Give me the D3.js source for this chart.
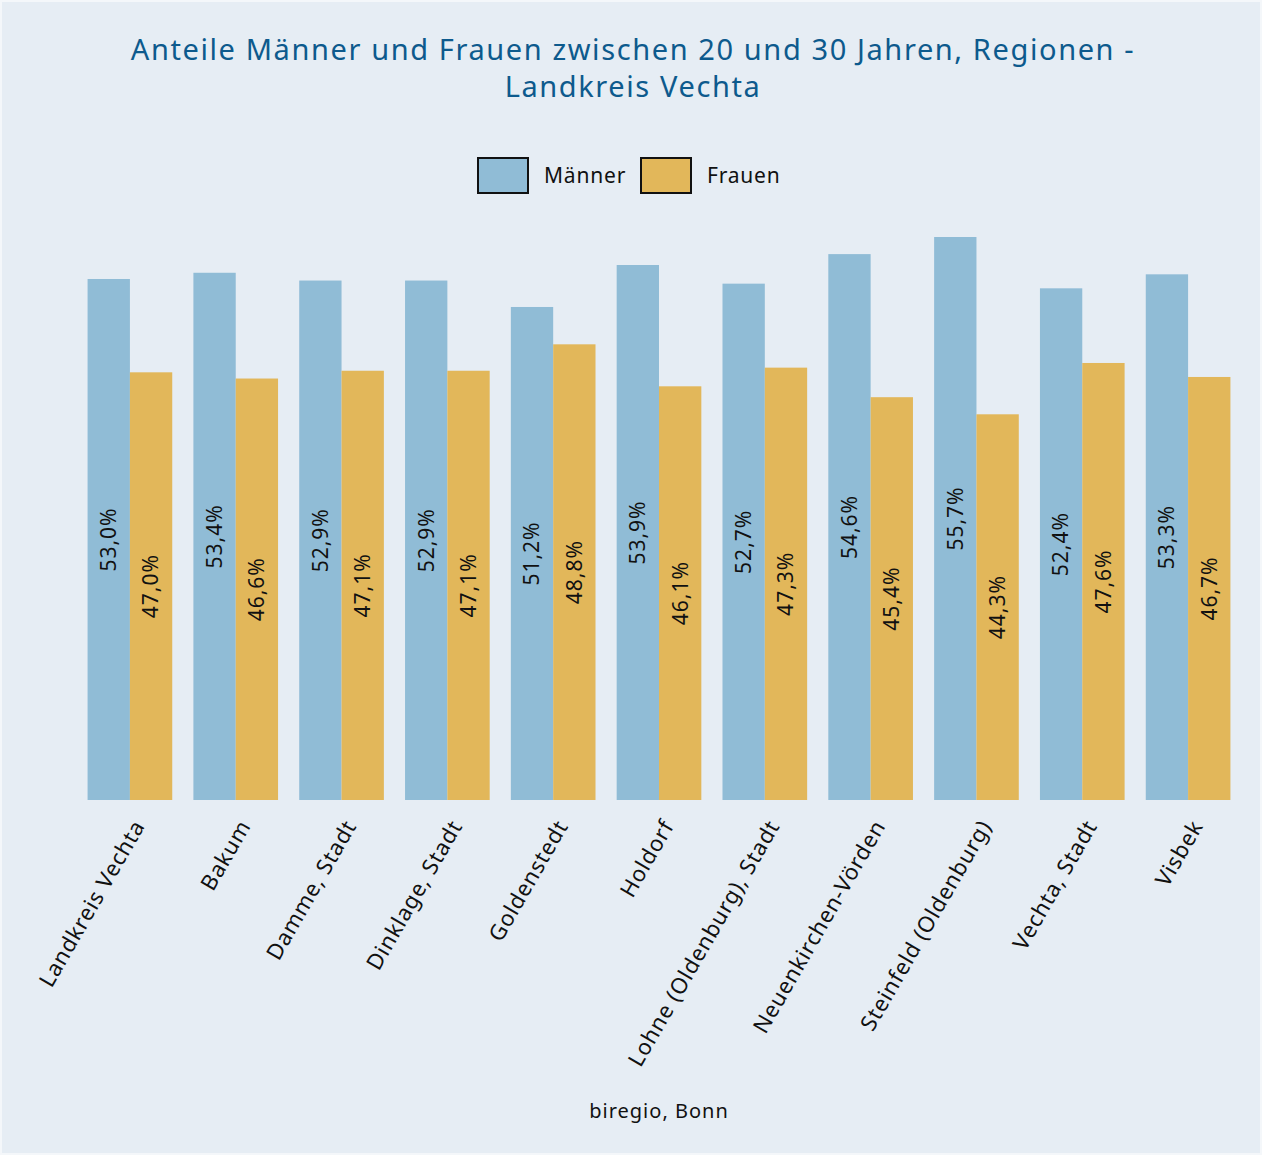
<!DOCTYPE html>
<html>
<head>
<meta charset="utf-8">
<script src="https://cdn.jsdelivr.net/npm/d3@7"></script>
<style>
  body { margin: 0; background: #fff; }
  svg { display: block; font-family: "Noto Sans", sans-serif; }
</style>
</head>
<body>
<svg width="1262" height="1155"></svg>
<script>
var regions = ["Landkreis Vechta", "Bakum", "Damme, Stadt", "Dinklage, Stadt", "Goldenstedt",
  "Holdorf", "Lohne (Oldenburg), Stadt", "Neuenkirchen-Vörden", "Steinfeld (Oldenburg)",
  "Vechta, Stadt", "Visbek"];
var maenner = [53.0, 53.4, 52.9, 52.9, 51.2, 53.9, 52.7, 54.6, 55.7, 52.4, 53.3];
var frauen  = [47.0, 46.6, 47.1, 47.1, 48.8, 46.1, 47.3, 45.4, 44.3, 47.6, 46.7];
var seriesNames = ["Männer", "Frauen"];
var colors = ["#90bcd6", "#e2b75a"];

var svg = d3.select("svg"),
    W = 1262, H = 1155;

svg.append("rect")
  .attr("x", 1).attr("y", 1).attr("width", W - 2).attr("height", H - 2)
  .attr("fill", "#e6edf4").attr("stroke", "#f4f7fa").attr("stroke-width", 2);

var x = d3.scaleBand()
  .domain(regions)
  .range([77, 1241])
  .paddingInner(0.2)
  .paddingOuter(0.1);

var xs = d3.scaleBand()
  .domain(seriesNames)
  .range([0, x.bandwidth()]);

// value axis does not start at 0
var y = d3.scaleLinear()
  .domain([19.5, 55.7])
  .range([800, 237]);

var fmt = function(v) { return v.toFixed(1).replace(".", ",") + "%"; };

// title
var title = svg.append("text")
  .attr("text-anchor", "middle")
  .attr("fill", "#0d5a8d")
  .style("font-size", "29px")
  .style("letter-spacing", "1.6px");
title.append("tspan").attr("x", 633).attr("y", 60).text("Anteile Männer und Frauen zwischen 20 und 30 Jahren, Regionen -");
title.append("tspan").attr("x", 633).attr("y", 97).text("Landkreis Vechta");

// legend
var legend = svg.append("g");
var legX = [478, 641];
seriesNames.forEach(function(s, i) {
  var g = legend.append("g").attr("transform", "translate(" + legX[i] + ",158)");
  g.append("rect").attr("width", 50).attr("height", 35)
    .attr("fill", colors[i]).attr("stroke", "#111").attr("stroke-width", 2);
  g.append("text").attr("x", 66).attr("y", 25)
    .style("font-size", "21px").style("letter-spacing", "0.8px")
    .attr("fill", "#111").text(s);
});

var rows = regions.map(function(r, i) { return { region: r, values: [maenner[i], frauen[i]] }; });

var groups = svg.append("g").selectAll("g")
  .data(rows)
  .join("g")
  .attr("transform", function(d) { return "translate(" + x(d.region) + ",0)"; });

groups.selectAll("rect")
  .data(function(d) { return d.values.map(function(v, i) { return { s: seriesNames[i], v: v, i: i }; }); })
  .join("rect")
  .attr("x", function(d) { return xs(d.s); })
  .attr("width", xs.bandwidth())
  .attr("y", function(d) { return y(d.v); })
  .attr("height", function(d) { return y.range()[0] - y(d.v); })
  .attr("fill", function(d) { return colors[d.i]; });

groups.selectAll("text")
  .data(function(d) { return d.values.map(function(v, i) { return { s: seriesNames[i], v: v, i: i }; }); })
  .join("text")
  .attr("transform", function(d) {
    var cx = xs(d.s) + xs.bandwidth() / 2,
        cy = (y(d.v) + y.range()[0]) / 2;
    return "translate(" + cx + "," + cy + ") rotate(-90)";
  })
  .attr("text-anchor", "middle")
  .attr("dy", "0.35em")
  .style("font-size", "21px")
  .style("letter-spacing", "1px")
  .attr("fill", "#111")
  .text(function(d) { return fmt(d.v); });

// x axis labels
var xAxis = svg.append("g")
  .attr("transform", "translate(0,800)")
  .call(d3.axisBottom(x).tickSize(0).tickPadding(0));
xAxis.select(".domain").remove();
xAxis.selectAll("text")
  .attr("transform", "translate(9,22) rotate(-60)")
  .attr("text-anchor", "end")
  .attr("dy", "0.35em")
  .attr("y", 0)
  .style("font-size", "22px")
  .style("letter-spacing", "0.8px")
  .style("font-family", "'Noto Sans', sans-serif")
  .attr("fill", "#111");

// source
svg.append("text")
  .attr("x", (x.range()[0] + x.range()[1]) / 2)
  .attr("y", 1118)
  .attr("text-anchor", "middle")
  .style("font-size", "20px")
  .style("letter-spacing", "1px")
  .attr("fill", "#111")
  .text("biregio, Bonn");
</script>
</body>
</html>
